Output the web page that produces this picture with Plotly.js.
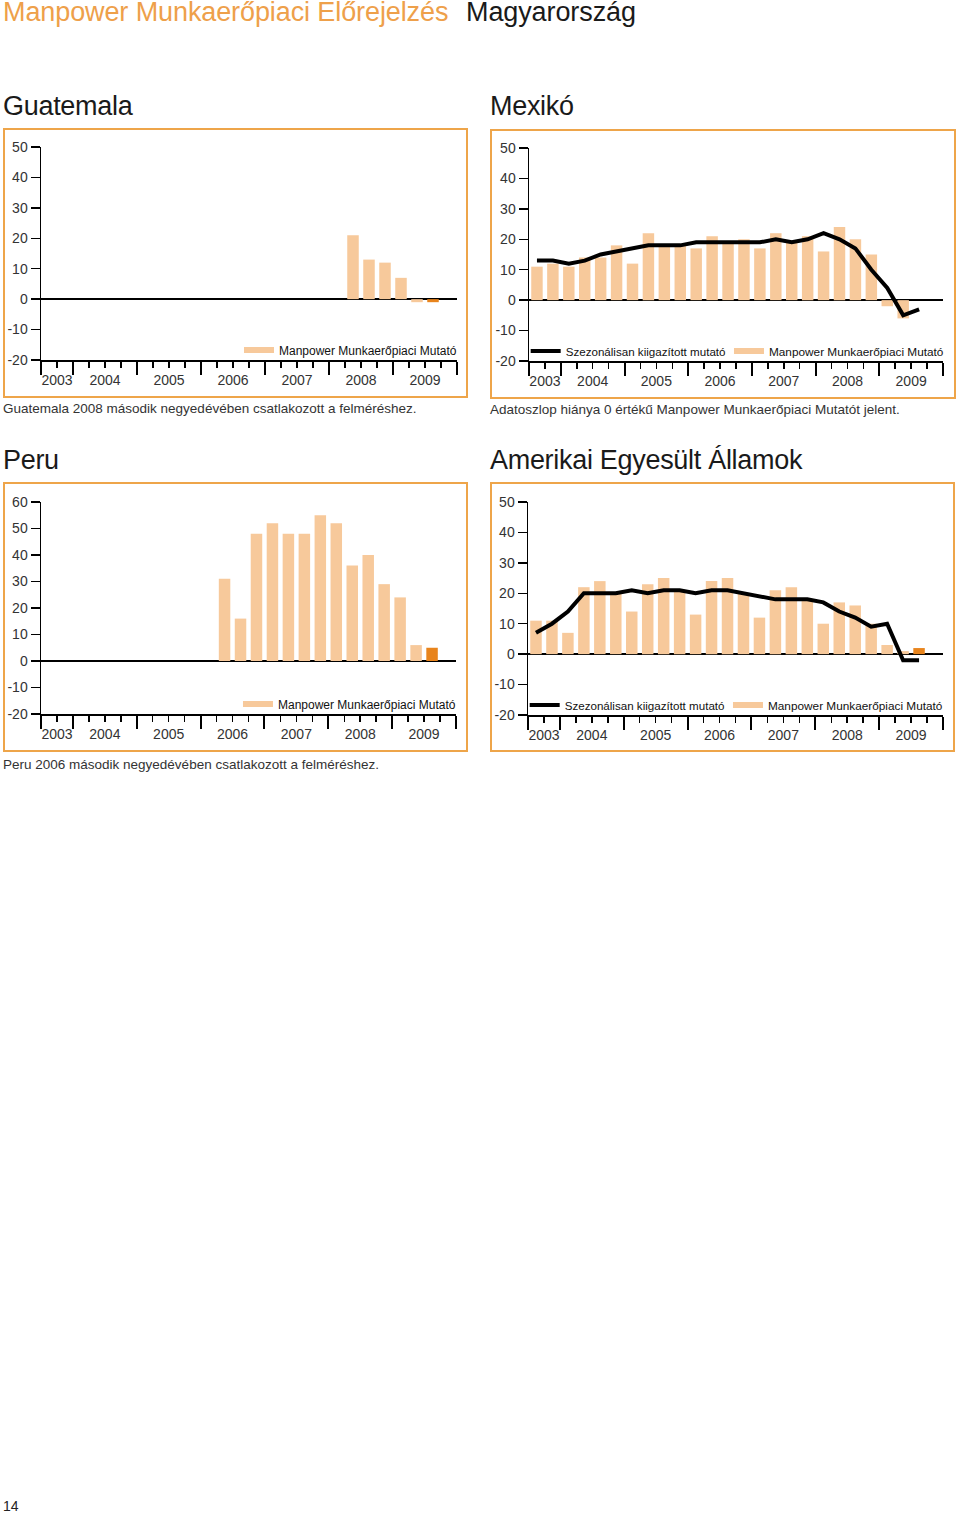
<!DOCTYPE html>
<html>
<head>
<meta charset="utf-8">
<script src="https://cdn.plot.ly/plotly-3.0.1.min.js"></script>
<style>
  html, body { margin: 0; padding: 0; background: #fff; }
  body { width: 960px; height: 1513px; position: relative; overflow: hidden; font-family: "Liberation Sans", Arial, sans-serif; }
  .abs { position: absolute; white-space: nowrap; }
  .hdr { top: -3px; font-size: 27px; letter-spacing: -0.1px; }
  .ttl { font-size: 27px; color: #1a1a1a; letter-spacing: -0.3px; }
  .note { font-size: 13.5px; color: #333; }
  .box { position: absolute; border: 2.5px solid #eea54a; box-sizing: border-box; }
  .chart { position: absolute; width: 480px; height: 290px; }
</style>
</head>
<body>
<div class="abs hdr" style="left:3px;color:#eea04a;">Manpower Munkaerőpiaci Előrejelzés</div>
<div class="abs hdr" style="left:466px;color:#1a1a1a;">Magyarország</div>

<div class="abs ttl" style="left:3px;top:91px;">Guatemala</div>
<div class="abs ttl" style="left:490px;top:91px;">Mexikó</div>
<div class="abs ttl" style="left:3px;top:445px;">Peru</div>
<div class="abs ttl" style="left:490px;top:445px;">Amerikai Egyesült Államok</div>

<div class="box" style="left:3px;top:128px;width:465px;height:270px;"></div>
<div class="box" style="left:490px;top:129px;width:466px;height:270px;"></div>
<div class="box" style="left:3px;top:482px;width:465px;height:270px;"></div>
<div class="box" style="left:490px;top:482px;width:465px;height:270px;"></div>

<div id="gt" class="chart" style="left:0px;top:120px;"></div>
<div id="mx" class="chart" style="left:480px;top:120px;"></div>
<div id="pe" class="chart" style="left:0px;top:475px;"></div>
<div id="us" class="chart" style="left:480px;top:475px;"></div>

<div class="abs note" style="left:3px;top:401px;">Guatemala 2008 második negyedévében csatlakozott a felméréshez.</div>
<div class="abs note" style="left:490px;top:402px;">Adatoszlop hiánya 0 értékű Manpower Munkaerőpiaci Mutatót jelent.</div>
<div class="abs note" style="left:3px;top:757px;">Peru 2006 második negyedévében csatlakozott a felméréshez.</div>
<div class="abs" style="left:3px;top:1498px;font-size:14px;color:#222;">14</div>

<script>
// Quarters 2003 Q3 .. 2009 Q4 (26 slots); data up to 2009 Q3 (forecast)
const quarters = ["2003Q3","2003Q4",
  "2004Q1","2004Q2","2004Q3","2004Q4",
  "2005Q1","2005Q2","2005Q3","2005Q4",
  "2006Q1","2006Q2","2006Q3","2006Q4",
  "2007Q1","2007Q2","2007Q3","2007Q4",
  "2008Q1","2008Q2","2008Q3","2008Q4",
  "2009Q1","2009Q2","2009Q3","2009Q4"];
const yearLabels = ["2003","2004","2005","2006","2007","2008","2009"];
const yearStartQuarter = ["2003Q3","2004Q1","2005Q1","2006Q1","2007Q1","2008Q1","2009Q1"];
const forecastQuarter = "2009Q3";

const guatemalaNEO = [null,null, null,null,null,null, null,null,null,null, null,null,null,null,
  null,null,null,null, null,21,13,12, 7,-1,-1,null];

const mexicoNEO = [11,12, 11,14,14,18, 12,22,18,18, 17,21,19,20, 17,22,19,21, 16,24,20,15, -2,-6,0,null];
const mexicoSA  = [13,13, 12,13,15,16, 17,18,18,18, 19,19,19,19, 19,20,19,20, 22,20,17,10, 4,-5,-3,null];

const peruNEO = [null,null, null,null,null,null, null,null,null,null, null,31,16,48, 52,48,48,55, 52,36,40,29, 24,6,5,null];

const usaNEO = [11,11, 7,22,24,20, 14,23,25,21, 13,24,25,20, 12,21,22,18, 10,17,16,10, 3,1,2,null];
const usaSA  = [7,10, 14,20,20,20, 21,20,21,21, 20,21,21,20, 19,18,18,18, 17,14,12,9, 10,-2,-2,null];

const legendNEO = "Manpower Munkaerőpiaci Mutató";
const legendSA = "Szezonálisan kiigazított mutató";

const LIGHT = "#f7c99b";
const DARK = "#e8841c";
const FONT = "Liberation Sans, Arial, sans-serif";

const idx = quarters.map((q, i) => i);
const nQ = quarters.length;

function yearCenters() {
  const c = [];
  for (let k = 0; k < yearStartQuarter.length; k++) {
    const s = quarters.indexOf(yearStartQuarter[k]);
    const e = k + 1 < yearStartQuarter.length ? quarters.indexOf(yearStartQuarter[k + 1]) : nQ;
    c.push((s + e - 1) / 2);
  }
  return c;
}
function yearBounds() {
  const b = yearStartQuarter.map(q => quarters.indexOf(q) - 0.5);
  b.push(nQ - 0.5);
  return b;
}

function barColors(vals) {
  return vals.map((v, i) => quarters[i] === forecastQuarter ? DARK : LIGHT);
}

function legendBox(x, xanchor, fs) {
  return {
    orientation: "h", x: x, xanchor: xanchor, y: 0.047, yanchor: "middle",
    bgcolor: "rgba(0,0,0,0)", borderwidth: 0,
    font: { family: FONT, size: fs, color: "#111" },
    itemclick: false, itemdoubleclick: false, itemwidth: 30
  };
}

function makeChart(id, neo, sa, ymax, margins) {
  const traces = [];
  traces.push({
    type: "bar", x: idx, y: neo, marker: { color: barColors(neo), line: { width: 0 } },
    showlegend: false, hoverinfo: "skip"
  });
  if (sa) {
    traces.push({
      type: "scatter", mode: "lines", x: idx, y: sa, name: legendSA,
      line: { color: "#000", width: 4 }, showlegend: true, legend: "legend", hoverinfo: "skip"
    });
  }
  traces.push({
    type: "scatter", mode: "lines", x: [null], y: [null], name: legendNEO,
    line: { color: LIGHT, width: 6 }, showlegend: true, legend: sa ? "legend2" : "legend", hoverinfo: "skip"
  });
  traces.push({
    type: "scatter", mode: "markers", x: yearCenters(), y: yearCenters().map(() => null),
    xaxis: "x2", showlegend: false, hoverinfo: "skip"
  });
  const ytv = [];
  for (let v = -20; v <= ymax; v += 10) ytv.push(v);
  const layout = {
    width: 480, height: 290,
    margin: margins,
    paper_bgcolor: "rgba(0,0,0,0)", plot_bgcolor: "rgba(0,0,0,0)",
    font: { family: FONT, size: 14, color: "#333" },
    bargap: 0.28,
    showlegend: true,
    legend: sa ? legendBox(-0.008, "left", 11.6) : legendBox(1.012, "right", 12),
    xaxis: {
      range: [-0.5, nQ - 0.5], showgrid: false, zeroline: false,
      showline: true, linecolor: "#000", linewidth: 1.5,
      tickmode: "array", tickvals: yearBounds(), ticktext: yearBounds().map(() => ""),
      ticks: "outside", ticklen: 13, tickwidth: 2, tickcolor: "#000",
      minor: { tickmode: "linear", tick0: -0.5, dtick: 1, ticks: "outside", ticklen: 6, tickwidth: 1.5, tickcolor: "#000", showgrid: false },
      fixedrange: true
    },
    xaxis2: {
      overlaying: "x", anchor: "y", side: "bottom", range: [-0.5, nQ - 0.5],
      showgrid: false, zeroline: false, showline: false,
      tickmode: "array", tickvals: yearCenters(), ticktext: yearLabels,
      ticks: "outside", ticklen: 7, tickcolor: "rgba(0,0,0,0)",
      tickfont: { family: FONT, size: 14, color: "#333" }, fixedrange: true
    },
    yaxis: {
      range: [-20, ymax], showgrid: false,
      zeroline: true, zerolinecolor: "#000", zerolinewidth: 2,
      showline: true, linecolor: "#000", linewidth: 1.5,
      tickmode: "array", tickvals: ytv, ticktext: ytv.map(v => String(v)),
      ticks: "outside", ticklen: 9, tickwidth: 1.5, tickcolor: "#000",
      tickfont: { family: FONT, size: 14, color: "#333" }, fixedrange: true
    }
  };
  if (sa) layout.legend2 = legendBox(1.012, "right", 11.8);
  Plotly.newPlot(id, traces, layout, { staticPlot: true, displayModeBar: false });
}

makeChart("gt", guatemalaNEO, null, 50, { l: 41, r: 23, t: 27, b: 50 });
makeChart("mx", mexicoNEO, mexicoSA, 50, { l: 49, r: 16, t: 28, b: 49 });
makeChart("pe", peruNEO, null, 60, { l: 41, r: 24, t: 27, b: 51 });
makeChart("us", usaNEO, usaSA, 50, { l: 48, r: 17, t: 27, b: 50 });
</script>
</body>
</html>
